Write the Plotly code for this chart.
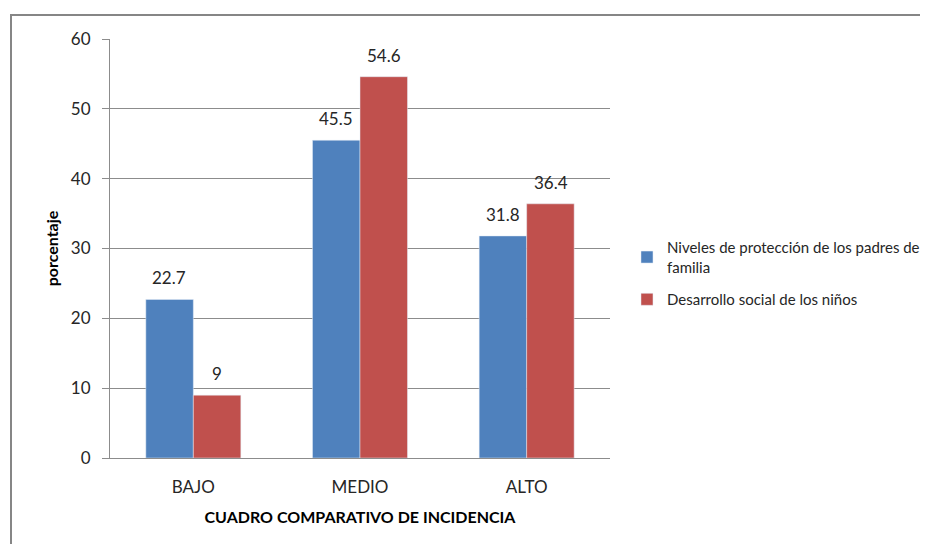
import plotly.graph_objects as go

categories = ["BAJO", "MEDIO", "ALTO"]
series_names = ["Niveles de protección de los padres de<br>familia", "Desarrollo social de los niños"]
proteccion = [22.7, 45.5, 31.8]
desarrollo = [9, 54.6, 36.4]
labels_proteccion = ["22.7", "45.5", "31.8"]
labels_desarrollo = ["9", "54.6", "36.4"]
colors = ["#4F81BD", "#C0504D"]

font_family = "Lato, 'Liberation Sans', sans-serif"

fig = go.Figure()
for i, (name, vals, col) in enumerate([(series_names[0], proteccion, colors[0]),
                                       (series_names[1], desarrollo, colors[1])]):
    fig.add_trace(go.Bar(x=categories, y=vals, name=name, marker_color=col,
                         legendgroup="g%d" % i))

annotations = []
for vals, labs, shift in [(proteccion, labels_proteccion, -24), (desarrollo, labels_desarrollo, 24)]:
    for c, v, t in zip(categories, vals, labs):
        annotations.append(dict(x=c, y=v, text=t, xref="x", yref="y", showarrow=False,
                                xshift=shift, yshift=9, yanchor="bottom",
                                font=dict(size=17, color="#262626", family=font_family)))

fig.update_layout(
    width=928, height=544,
    margin=dict(l=102, r=326, t=31, b=94),
    paper_bgcolor="white", plot_bgcolor="white",
    barmode="group", bargap=0.43, bargroupgap=0,
    font=dict(family=font_family, size=16, color="#262626"),
    showlegend=True,
    legend=dict(x=0.667, y=0.590, xref="container", yref="container",
                xanchor="left", yanchor="top",
                font=dict(size=15, color="#262626"), tracegroupgap=10,
                itemwidth=30, traceorder="grouped"),
    xaxis=dict(
        title=dict(text="<b>CUADRO COMPARATIVO DE INCIDENCIA</b>", font=dict(size=16, color="#000000"), standoff=15),
        showline=True, linecolor="#8C8C8C", linewidth=1,
        ticks="", tickfont=dict(size=17, color="#262626"), ticklabelstandoff=14,
        showgrid=False, automargin=False,
    ),
    yaxis=dict(
        title=dict(text="<b>porcentaje</b>", font=dict(size=16, color="#000000"), standoff=8),
        range=[0, 60], dtick=10,
        showline=True, linecolor="#8C8C8C", linewidth=1,
        ticks="outside", ticklen=7, tickcolor="#8C8C8C", ticklabelstandoff=8,
        showgrid=True, gridcolor="#8C8C8C", gridwidth=1,
        zeroline=False, automargin=False,
        tickfont=dict(size=17, color="#262626"),
    ),
    annotations=annotations,
    shapes=[dict(type="rect", xref="paper", yref="paper",
                 x0=-0.198, x1=1.7, y0=-0.3, y1=1.057,
                 line=dict(color="#868686", width=2), fillcolor="rgba(0,0,0,0)", layer="below")],
)

fig.write_html("out.html")
